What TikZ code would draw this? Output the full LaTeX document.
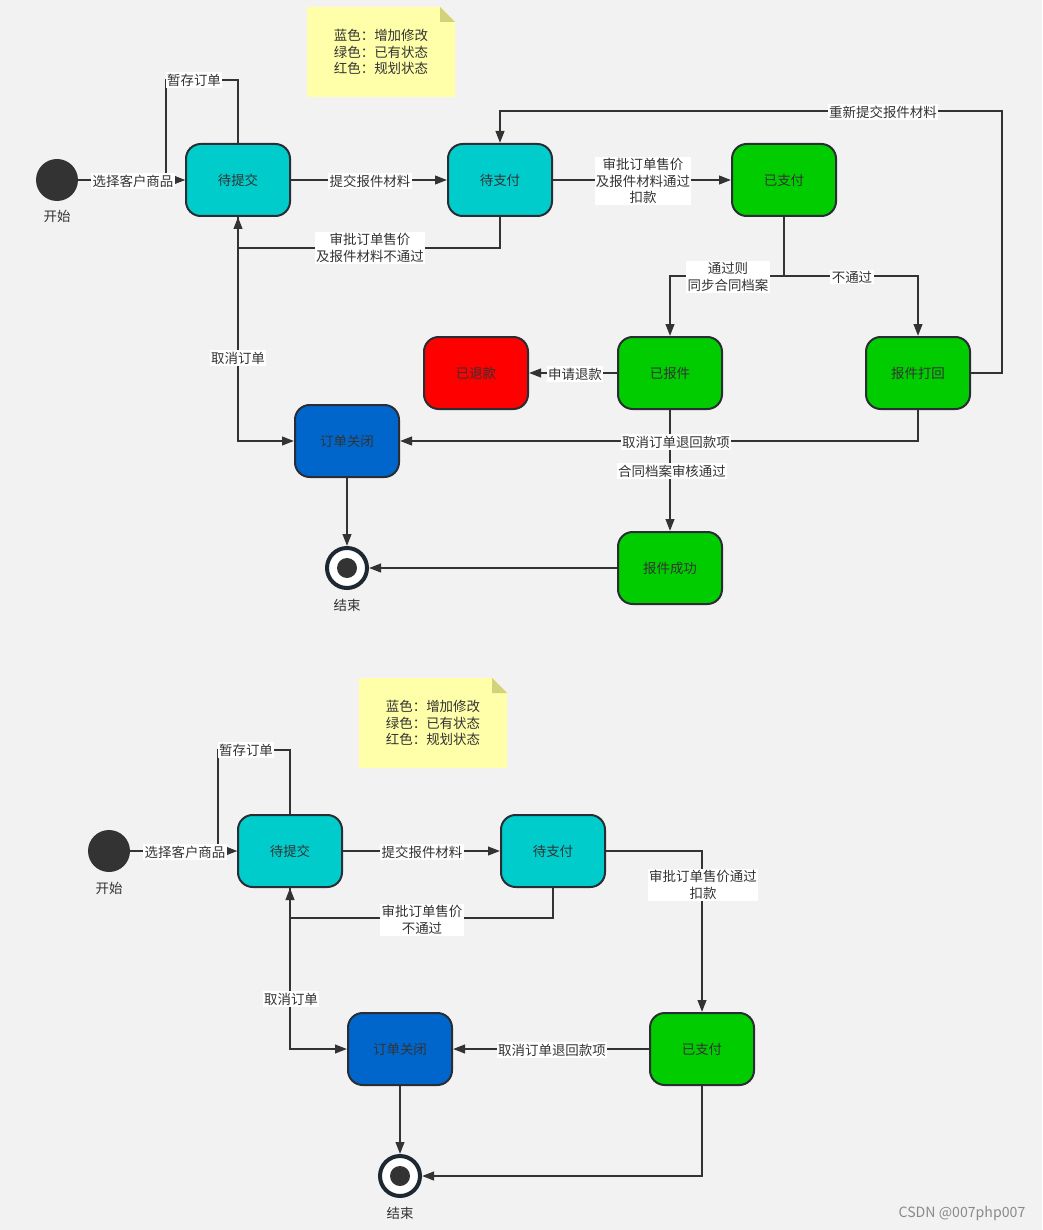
\documentclass[tikz,border=0pt]{standalone}
\usepackage{fontspec}
\newfontfamily\cjk{Noto Sans CJK SC}
\usetikzlibrary{arrows.meta}
\definecolor{bg}{HTML}{F2F2F2}
\definecolor{txt}{HTML}{333333}
\definecolor{edge}{HTML}{333333}
\definecolor{stroke}{HTML}{2A2D33}
\definecolor{cyanbox}{HTML}{00CCCC}
\definecolor{greenbox}{HTML}{00CC00}
\definecolor{redbox}{HTML}{FF0000}
\definecolor{bluebox}{HTML}{0066CC}
\definecolor{notefill}{HTML}{FFFFAA}
\definecolor{notefold}{HTML}{D2D27A}
\definecolor{ring}{HTML}{1E2832}
\definecolor{wm}{HTML}{8A8A8A}
\begin{document}
\begin{tikzpicture}[x=0.75pt,y=-0.75pt,
  every node/.style={font=\cjk\fontsize{10.1}{12.6}\selectfont, text=txt},
  state/.style={draw=stroke, line width=1.5pt, rounded corners=11pt, minimum width=78pt, minimum height=54pt, inner sep=0pt},
  conn/.style={draw=edge, line width=1.5pt, -{Triangle[length=9pt,width=6.5pt]}},
  lbl/.style={fill=white, inner sep=1pt, align=center},
  startdot/.style={circle, fill=txt, minimum size=31.5pt, inner sep=0pt},
  enddot/.style={circle, draw=ring, line width=3pt, fill=white, minimum size=30pt, inner sep=0pt},
  notebox/.style={fill=notefill}]
\useasboundingbox (0,0) rectangle (1042,1230);
\fill[bg] (0,0) rectangle (1042,1230);

% ---------------- top diagram ----------------
\fill[notefill] (307,7) -- (440,7) -- (455,22) -- (455,97) -- (307,97) -- cycle;
\fill[notefold] (440,7) -- (455,22) -- (440,22) -- cycle;
\node[align=center] (n1) at (381,52) {蓝色：增加修改\\绿色：已有状态\\红色：规划状态};

\node[startdot] (s1) at (57,180) {};
\node (s1l) at (57,216) {开始};
\node[state, fill=cyanbox] (dtj) at (238,180) {待提交};
\node[state, fill=cyanbox] (dzf) at (500,180) {待支付};
\node[state, fill=greenbox] (yzf) at (784,180) {已支付};
\node[state, fill=greenbox] (ybj) at (670,373) {已报件};
\node[state, fill=greenbox] (bjdh) at (918,373) {报件打回};
\node[state, fill=redbox] (ytk) at (476,373) {已退款};
\node[state, fill=bluebox] (ddgb) at (347,441) {订单关闭};
\node[state, fill=greenbox] (bjcg) at (670,568) {报件成功};
\node[enddot] (e1) at (347,568) {};
\fill[txt] (e1.center) circle (7.5pt);
\node (e1l) at (347,605) {结束};

\coordinate (b1) at (784,276);
\draw[conn] (s1) -- (dtj);
\draw[conn] (dtj.north) |- (166,80) |- (dtj.west);
\draw[conn] (dtj) -- (dzf);
\draw[conn] (dzf) -- (yzf);
\draw[conn] (dzf.south) |- (238,248) -- (dtj.south);
\draw[conn] (dtj.south) |- (ddgb.west);
\draw[conn] (yzf.south) -- (b1) -| (ybj.north);
\draw[conn] (b1) -| (bjdh.north);
\draw[conn] (bjdh.east) -| (1002,111) -| (dzf.north);
\draw[conn] (ybj) -- (ytk);
\draw[conn] (bjdh.south) |- (ddgb.east);
\draw[conn] (ybj) -- (bjcg);
\draw[conn] (ddgb) -- (e1);
\draw[conn] (bjcg) -- (e1);

\node[lbl] at (133,181) {选择客户商品};
\node[lbl] at (194,80) {暂存订单};
\node[lbl] at (370,181) {提交报件材料};
\node[lbl] at (643,181) {审批订单售价\\及报件材料通过\\扣款};
\node[lbl] at (370,248) {审批订单售价\\及报件材料不通过};
\node[lbl] at (728,277) {通过则\\同步合同档案};
\node[lbl] at (852,277) {不通过};
\node[lbl] at (883,112) {重新提交报件材料};
\node[lbl] at (575,374) {申请退款};
\node[lbl] at (238,358) {取消订单};
\node[lbl] at (676,442) {取消订单退回款项};
\node[lbl] at (672,471) {合同档案审核通过};

% ---------------- bottom diagram ----------------
\fill[notefill] (359,678) -- (492,678) -- (507,693) -- (507,768) -- (359,768) -- cycle;
\fill[notefold] (492,678) -- (507,693) -- (492,693) -- cycle;
\node[align=center] (n2) at (433,723) {蓝色：增加修改\\绿色：已有状态\\红色：规划状态};

\node[startdot] (s2) at (109,851) {};
\node (s2l) at (109,888) {开始};
\node[state, fill=cyanbox] (dtj2) at (290,851) {待提交};
\node[state, fill=cyanbox] (dzf2) at (553,851) {待支付};
\node[state, fill=greenbox] (yzf2) at (702,1049) {已支付};
\node[state, fill=bluebox] (ddgb2) at (400,1049) {订单关闭};
\node[enddot] (e2) at (400,1176) {};
\fill[txt] (e2.center) circle (7.5pt);
\node (e2l) at (400,1213) {结束};

\draw[conn] (s2) -- (dtj2);
\draw[conn] (dtj2.north) |- (218,750) |- (dtj2.west);
\draw[conn] (dtj2) -- (dzf2);
\draw[conn] (dzf2.east) -| (yzf2.north);
\draw[conn] (dzf2.south) |- (290,918) -- (dtj2.south);
\draw[conn] (dtj2.south) |- (ddgb2.west);
\draw[conn] (yzf2) -- (ddgb2);
\draw[conn] (ddgb2) -- (e2);
\draw[conn] (yzf2.south) |- (e2.east);

\node[lbl] at (185,852) {选择客户商品};
\node[lbl] at (246,750) {暂存订单};
\node[lbl] at (422,852) {提交报件材料};
\node[lbl] at (703,885) {审批订单售价通过\\扣款};
\node[lbl] at (422,920) {审批订单售价\\不通过};
\node[lbl] at (291,999) {取消订单};
\node[lbl] at (552,1050) {取消订单退回款项};

\node[text=wm, font=\cjk\fontsize{10.6}{12}\selectfont] (wm) at (962,1213) {CSDN @007php007};
\end{tikzpicture}
\end{document}
